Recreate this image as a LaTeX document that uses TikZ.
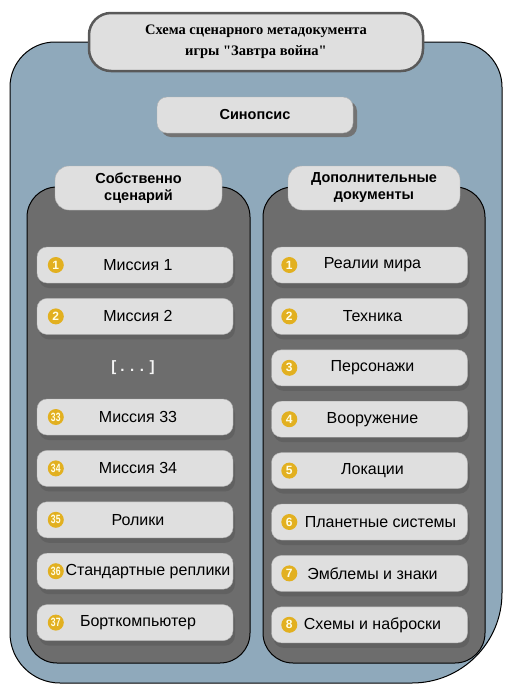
\documentclass[tikz,border=0pt]{standalone}
\usepackage{fontspec}
\setsansfont{Liberation Sans}
\newfontfamily\titlefont{Liberation Serif}
\usetikzlibrary{positioning,shadows}

\definecolor{outerblue}{RGB}{143,169,187}
\definecolor{panelgray}{RGB}{109,109,109}
\definecolor{boxgray}{RGB}{223,223,223}
\definecolor{badgegold}{RGB}{226,176,32}

\newcommand{\twodigit}[1]{\scalebox{0.72}[1]{#1}}

\begin{document}
\begin{tikzpicture}[x=1pt,y=-1pt,
    node distance=15pt,
    itembox/.style = {rectangle, rounded corners=10pt, fill=boxgray, draw=gray!60,
        minimum width=196pt, minimum height=36pt, inner sep=0pt,
        font=\sffamily\fontsize{16}{18}\selectfont,
        drop shadow={shadow xshift=2pt, shadow yshift=-5pt, fill=black!62, opacity=1}},
    headbox/.style = {rectangle, rounded corners=14pt, fill=boxgray, draw=gray!60,
        inner sep=0pt, align=center,
        font=\sffamily\bfseries\fontsize{14.5}{17}\selectfont},
    badge/.style = {circle, fill=badgegold, text=white!90!yellow, inner sep=0pt, minimum size=16pt,
        font=\sffamily\bfseries\fontsize{12}{12}\selectfont},
    panel/.style = {rectangle, rounded corners=30pt, fill=panelgray, draw=black,
        line width=1pt, inner sep=0pt}]
    \useasboundingbox (0,0) rectangle (510,697);

    % outer frame
    \path[fill=outerblue, draw=black, line width=1pt]
        [rounded corners=45pt] (10,400) |- (256,42) -| (502,400)
        [rounded corners=90pt] |- (256,683)
        [rounded corners=50pt] -| (10,400) -- cycle;

    % title and synopsis
    \node[headbox, font=\titlefont\bfseries\fontsize{14.5}{21}\selectfont, rounded corners=22pt,
          draw=black!65, line width=2.5pt, minimum width=334pt, minimum height=58pt] (title) at (256,42)
          {Схема сценарного метадокумента\\игры "Завтра война"};
    \node[headbox, minimum width=196pt, minimum height=36pt, rounded corners=10pt,
          drop shadow={shadow xshift=4pt, shadow yshift=-4pt, fill=black!55, opacity=1}] (synopsis) at (255,115) {Синопсис};

    % two panels with their headers
    \node[panel, minimum width=223pt, minimum height=476pt] (script) at (138.5,425) {};
    \node[panel, minimum width=222pt, minimum height=476pt] (docs) at (374,425) {};
    \node[headbox, minimum width=167pt, minimum height=44pt] (scripthead) at (138.5,188) {Собственно\\сценарий};
    \node[headbox, minimum width=172pt, minimum height=44pt] (docshead) at (374,188) {Дополнительные\\документы};

    % left column
    \node[itembox] (m1) at (135,265) {\hspace{6pt}Миссия 1};
    \node[itembox] (m2) [below=of m1] {\hspace{6pt}Миссия 2};
    \node[text=white!92!gray, font=\sffamily\bfseries\fontsize{15}{17}\selectfont] (dots) at (133,368) {[ . . . ]};
    \node[itembox] (m33) at (135,417) {\hspace{6pt}Миссия 33};
    \node[itembox] (m34) [below=of m33] {\hspace{6pt}Миссия 34};
    \node[itembox] (clips) [below=of m34] {\hspace{6pt}Ролики};
    \node[itembox] (lines) [below=of clips] {\hspace{26pt}Стандартные реплики};
    \node[itembox] (computer) [below=of lines] {\hspace{6pt}Борткомпьютер};

    \node[badge] (bm1) at ([xshift=19pt]m1.west) {1};
    \node[badge] (bm2) at ([xshift=19pt]m2.west) {2};
    \node[badge] (bm33) at ([xshift=19pt]m33.west) {\twodigit{33}};
    \node[badge] (bm34) at ([xshift=19pt]m34.west) {\twodigit{34}};
    \node[badge] (bclips) at ([xshift=19pt]clips.west) {\twodigit{35}};
    \node[badge] (blines) at ([xshift=19pt]lines.west) {\twodigit{36}};
    \node[badge] (bcomputer) at ([xshift=19pt]computer.west) {\twodigit{37}};

    % right column
    \node[itembox] (d1) at (369.5,265) {\hspace{6pt}Реалии мира};
    \node[itembox] (d2) [below=of d1] {\hspace{6pt}Техника};
    \node[itembox] (d3) [below=of d2] {\hspace{6pt}Персонажи};
    \node[itembox] (d4) [below=of d3] {\hspace{6pt}Вооружение};
    \node[itembox] (d5) [below=of d4] {\hspace{6pt}Локации};
    \node[itembox] (d6) [below=of d5] {\hspace{22pt}Планетные системы};
    \node[itembox] (d7) [below=of d6] {\hspace{6pt}Эмблемы и знаки};
    \node[itembox] (d8) [below=of d7] {\hspace{6pt}Схемы и наброски};

    \node[badge] (bd1) at ([xshift=18pt]d1.west) {1};
    \node[badge] (bd2) at ([xshift=18pt]d2.west) {2};
    \node[badge] (bd3) at ([xshift=18pt]d3.west) {3};
    \node[badge] (bd4) at ([xshift=18pt]d4.west) {4};
    \node[badge] (bd5) at ([xshift=18pt]d5.west) {5};
    \node[badge] (bd6) at ([xshift=18pt]d6.west) {6};
    \node[badge] (bd7) at ([xshift=18pt]d7.west) {7};
    \node[badge] (bd8) at ([xshift=18pt]d8.west) {8};
\end{tikzpicture}
\end{document}
